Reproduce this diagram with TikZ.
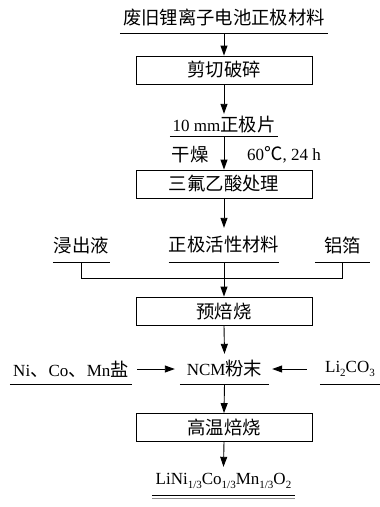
\documentclass[tikz,border=0pt]{standalone}
\usepackage{fontspec}
\setmainfont{Liberation Serif}
\newfontfamily\cjk[Scale=1.08]{Noto Sans CJK SC}
\newcommand\sbs[1]{\raisebox{-4.5pt}{\fontsize{11}{11}\selectfont #1}}
\usetikzlibrary{arrows.meta}
\begin{document}
\begin{tikzpicture}[x=1pt,y=-1pt,
  every node/.style={font=\fontsize{17}{20}\selectfont, inner sep=0pt},
  stepbox/.style={draw, line width=0.9pt, minimum width=176pt, minimum height=28pt},
  arr/.style={line width=0.9pt, -{Triangle[length=10pt,width=7pt]}},
  ln/.style={line width=0.9pt}]
\useasboundingbox (0,0) rectangle (380,507);
% texts
\node[minimum width=208pt, minimum height=30pt] (t0) at (224,18) {\cjk 废旧锂离子电池正极材料};
\node[stepbox] (b1) at (224,70) {\cjk 剪切破碎};
\node[minimum width=108pt, minimum height=22pt] (t1) at (224,125) {10 mm{\cjk 正极片}};
\node (dry) at (190,155) {\cjk 干燥};
\node (cond) at (284,155) {60{\cjk ℃}, 24 h};
\node[stepbox] (b2) at (224,184) {\cjk 三氟乙酸处理};
\node[minimum width=57pt, minimum height=34pt] (leach) at (81.5,245) {\cjk 浸出液};
\node[minimum width=109pt, minimum height=34pt] (act) at (224,245) {\cjk 正极活性材料};
\node[minimum width=55pt, minimum height=34pt] (foil) at (342.5,245) {\cjk 铝箔};
\node[stepbox] (b3) at (224,311) {\cjk 预焙烧};
\node[minimum width=89pt, minimum height=30pt] (ncm) at (224.5,369) {NCM{\cjk 粉末}};
\node[minimum width=122pt, minimum height=30pt] (ni) at (71,369) {Ni{\cjk 、}Co{\cjk 、}Mn{\cjk 盐}};
\node[minimum width=60pt, minimum height=30pt] (li) at (350,369) {Li\sbs{2}CO\sbs{3}};
\node[stepbox] (b4) at (224,427.5) {\cjk 高温焙烧};
\node[minimum width=143pt, minimum height=28pt] (fin) at (223.5,481) {LiNi\sbs{1/3}Co\sbs{1/3}Mn\sbs{1/3}O\sbs{2}};
% underlines
\foreach \n in {t0,t1,leach,act,foil,ncm,ni,li,fin}
  \draw[ln] (\n.south west) -- (\n.south east);
\draw[line width=0.9pt, black!45] ([yshift=-3.5pt]fin.south west) -- ([yshift=-3.5pt]fin.south east);
% connectors
\draw[arr] (t0.south) -- (b1.north);
\draw[arr] (b1.south) -- (t1.north);
\draw[arr] (t1.south) -- (b2.north);
\draw[arr] (b2.south) -- (act.north);
\draw[ln] (leach.south) -- ++(0,16) -| (foil.south);
\draw[arr] (act.south) -- (b3.north);
\draw[arr] (b3.south) -- (ncm.north);
\draw[arr, shorten <=5pt, shorten >=5pt] (ni.east) -- (ncm.west);
\draw[arr, shorten <=13pt, shorten >=3pt] (li.west) -- (ncm.east);
\draw[arr] (ncm.south) -- (b4.north);
\draw[arr] (b4.south) -- (fin.north);
\end{tikzpicture}
\end{document}
